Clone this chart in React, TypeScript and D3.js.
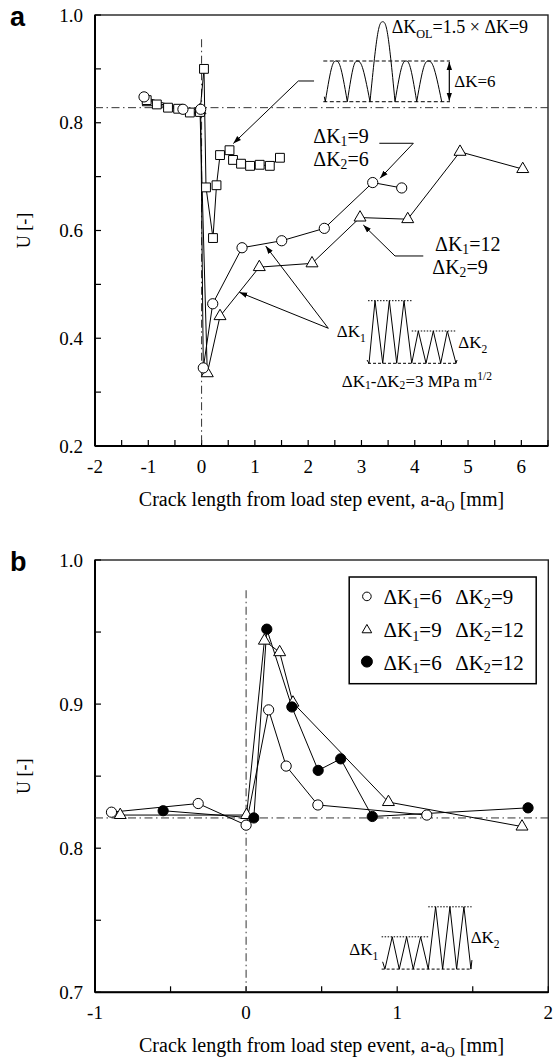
import React from 'react';
import * as d3 from 'd3';

const SERIF = "'Liberation Serif', 'Times New Roman', 'DejaVu Serif', serif";
const SANS = "'Liberation Sans', Arial, sans-serif";

// ---------- panel a : U vs crack length, single overload and high-low steps ----------
const aXTicks = [-2, -1, 0, 1, 2, 3, 4, 5, 6];
const aYTicks = [0.2, 0.4, 0.6, 0.8, 1.0];
const aRefU = 0.828;
// ΔK=6 with a single ΔK_OL=9 overload (squares)
const aOverload: [number, number][] = [
  [-1.03, 0.842], [-0.84, 0.834], [-0.63, 0.828], [-0.44, 0.826], [-0.22, 0.819],
  [-0.03, 0.82], [0.045, 0.9], [0.083, 0.68], [0.214, 0.586], [0.28, 0.684],
  [0.346, 0.74], [0.524, 0.749], [0.59, 0.731], [0.74, 0.724], [0.91, 0.72],
  [1.09, 0.722], [1.28, 0.72], [1.47, 0.735],
];
// ΔK1=9 -> ΔK2=6 (circles)
const aStep9to6: [number, number][] = [
  [-1.08, 0.848], [-0.35, 0.825], [-0.017, 0.825], [0.032, 0.345], [0.209, 0.464],
  [0.759, 0.568], [1.503, 0.581], [2.303, 0.604], [3.211, 0.689], [3.755, 0.679],
];
// ΔK1=12 -> ΔK2=9 (triangles)
const aStep12to9: [number, number][] = [
  [-1.0, 0.838], [-0.03, 0.823], [0.107, 0.335], [0.346, 0.441], [1.083, 0.532],
  [2.072, 0.539], [2.973, 0.624], [3.868, 0.621], [4.849, 0.746], [6.026, 0.714],
];

// ---------- panel b : low-high steps ----------
const bXTicks = [-1, 0, 1, 2];
const bYTicks = [0.7, 0.8, 0.9, 1.0];
const bRefU = 0.821;
const bStep6to9: [number, number][] = [
  [-0.891, 0.825], [-0.317, 0.831], [0, 0.816], [0.149, 0.896], [0.265, 0.857],
  [0.475, 0.83], [1.196, 0.823],
];
const bStep9to12: [number, number][] = [
  [-0.833, 0.823], [0.003, 0.823], [0.121, 0.944], [0.222, 0.936], [0.31, 0.901],
  [0.942, 0.832], [1.826, 0.815],
];
const bStep6to12: [number, number][] = [
  [-0.549, 0.826], [0.051, 0.821], [0.137, 0.952], [0.303, 0.898], [0.477, 0.854],
  [0.626, 0.862], [0.835, 0.822], [1.866, 0.828],
];
const bLegend = [
  { k1: 'ΔK_{1}=6', k2: 'ΔK_{2}=9', mark: 'circle' },
  { k1: 'ΔK_{1}=9', k2: 'ΔK_{2}=12', mark: 'triangle' },
  { k1: 'ΔK_{1}=6', k2: 'ΔK_{2}=12', mark: 'dot' },
];

const xTitle = 'Crack length from load step event, a-a_{O} [mm]';
const yTitle = 'U [-]';

// scales
const aX = d3.scaleLinear().domain([-2, 6.5]).range([95, 548]);
const aY = d3.scaleLinear().domain([0.2, 1.0]).range([446, 15]);
const bX = d3.scaleLinear().domain([-1, 2]).range([95, 548.3]);
const bY = d3.scaleLinear().domain([0.7, 1.0]).range([992.3, 560]);

type Scale = d3.ScaleLinear<number, number>;

// tiny "_{sub}" / "^{sup}" parser for svg text
function parse(s: string) {
  const out: { t: string; mode: string }[] = [];
  const re = /([_^])\{([^}]*)\}/g;
  let last = 0;
  let m: RegExpExecArray | null;
  while ((m = re.exec(s))) {
    if (m.index > last) out.push({ t: s.slice(last, m.index), mode: 'n' });
    out.push({ t: m[2], mode: m[1] === '_' ? 'sub' : 'sup' });
    last = re.lastIndex;
  }
  if (last < s.length) out.push({ t: s.slice(last), mode: 'n' });
  return out;
}

function Rich(props: { x: number; y: number; size: number; text: string; anchor?: string; subShift?: number }) {
  const { x, y, size, text, anchor = 'start', subShift = 0.3 } = props;
  let cur = 0;
  return (
    <text x={x} y={y} fontSize={size} textAnchor={anchor} fill="#000" style={{ fontFamily: SERIF }}>
      {parse(text).map((p, i) => {
        const off = p.mode === 'sub' ? size * subShift : p.mode === 'sup' ? -size * 0.42 : 0;
        const dy = off - cur;
        cur = off;
        return (
          <tspan key={i} dy={dy} fontSize={p.mode === 'n' ? size : size * 0.68}>
            {p.t}
          </tspan>
        );
      })}
    </text>
  );
}

const sym = {
  circle: d3.symbol().type(d3.symbolCircle).size(82)()!,
  square: d3.symbol().type(d3.symbolSquare).size(78)()!,
  triangle: d3.symbol().type(d3.symbolTriangle).size(62)()!,
};

function Series({ data, X, Y, shape, fill = '#fff' }: { data: [number, number][]; X: Scale; Y: Scale; shape: string; fill?: string }) {
  return (
    <g>
      {data.map((d, i) => (
        <path key={i} d={(sym as any)[shape]} transform={`translate(${X(d[0])},${Y(d[1])})`} fill={fill} stroke="#000" strokeWidth={1} />
      ))}
    </g>
  );
}

function SeriesLine({ data, X, Y }: { data: [number, number][]; X: Scale; Y: Scale }) {
  const gen = d3.line<[number, number]>().x(d => X(d[0])).y(d => Y(d[1]));
  return <path d={gen(data)!} fill="none" stroke="#000" strokeWidth={1} />;
}

function Axes({ X, Y, xTicks, yTicks, xMinorStep, yMinorStep, letter }: { X: Scale; Y: Scale; xTicks: number[]; yTicks: number[]; xMinorStep: number; yMinorStep: number; letter: string }) {
  const [x0, x1] = X.range();
  const [y0, y1] = Y.range(); // y0 bottom, y1 top
  const [dx0, dx1] = X.domain();
  const [dy0, dy1] = Y.domain();
  const xMinor = d3.range(dx0, dx1 + 1e-9, xMinorStep);
  const yMinor = d3.range(dy0, dy1 + 1e-9, yMinorStep);
  const tl = 6;
  return (
    <g>
      <rect x={x0} y={y1} width={x1 - x0} height={y0 - y1} fill="none" stroke="#222" strokeWidth={1.4} />
      <line x1={x0} x2={x0} y1={y1} y2={y0} stroke="#000" strokeWidth={2} />
      <line x1={x0} x2={x1} y1={y0} y2={y0} stroke="#000" strokeWidth={2} />
      {xMinor.map((v, i) => (
        <line key={'xt' + i} x1={X(v)} x2={X(v)} y1={y0} y2={y0 - tl} stroke="#000" strokeWidth={1.2} />
      ))}
      {yMinor.map((v, i) => (
        <line key={'yt' + i} x1={x0} x2={x0 + tl} y1={Y(v)} y2={Y(v)} stroke="#000" strokeWidth={1.2} />
      ))}
      {xTicks.map(v => (
        <text key={'xl' + v} x={X(v)} y={y0 + 27} fontSize={19} textAnchor="middle" style={{ fontFamily: SERIF }}>
          {String(v)}
        </text>
      ))}
      {yTicks.map(v => (
        <text key={'yl' + v} x={x0 - 12} y={Y(v) + 6.5} fontSize={19} textAnchor="end" style={{ fontFamily: SERIF }}>
          {d3.format('.1f')(v)}
        </text>
      ))}
      <Rich x={(x0 + x1) / 2} y={y0 + 60} size={20} text={xTitle} anchor="middle" subShift={0.25} />
      <text transform={`translate(30,${(y0 + y1) / 2}) rotate(-90)`} fontSize={18} textAnchor="middle" style={{ fontFamily: SERIF }}>
        {yTitle}
      </text>
      <text x={10} y={y1 + 11} fontSize={27} fontWeight="bold" style={{ fontFamily: SANS }}>
        {letter}
      </text>
    </g>
  );
}

const DASHDOT = '8,3.5,1.5,3.5';

// load sketch: each half cycle is a pointed-valley hump between two valleys
function humps(valleys: number[], peaks: [number, number][], bottom: number) {
  const p = d3.path();
  p.moveTo(valleys[0], bottom - 5);
  p.lineTo(valleys[0] + 1, bottom);
  for (let i = 0; i < peaks.length; i++) {
    const [px, py] = peaks[i];
    const a = valleys[i] + (i === 0 ? 1 : 0);
    const b = valleys[i + 1];
    p.bezierCurveTo(a + (px - a) * 0.55, bottom - (bottom - py) * 0.9, px - (px - a) * 0.3, py, px, py);
    p.bezierCurveTo(px + (b - px) * 0.3, py, b - (b - px) * 0.55, bottom - (bottom - py) * 0.9, b, bottom);
  }
  return p.toString();
}

function PanelA() {
  const X = aX, Y = aY;
  const o1 = [X(2.284), Y(0.9146)]; // overload sketch origin
  const o2 = [X(3.123), Y(0.4697)]; // step sketch origin
  const zig = d3.line()([
    [-1, 59.3], [1, 62.6], [7, 0], [14.7, 62.6], [21.3, 0], [28.7, 62.6], [36, 0], [43.7, 62.6],
    [50.3, 30.3], [58, 62.6], [65.3, 30.3], [72.7, 62.6], [79.3, 30.3], [88, 62.6], [89, 59.3],
  ])!;
  const poly = (pts: [number, number][]) => d3.line<[number, number]>().x(d => X(d[0])).y(d => Y(d[1]))(pts)!;
  return (
    <g>
      <Axes X={X} Y={Y} xTicks={aXTicks} yTicks={aYTicks} xMinorStep={0.5} yMinorStep={0.1} letter="a" />
      <line x1={X(-2)} x2={X(6.5)} y1={Y(aRefU)} y2={Y(aRefU)} stroke="#333" strokeWidth={1} strokeDasharray={DASHDOT} />
      <line x1={X(0)} x2={X(0)} y1={Y(0.955)} y2={Y(0.2)} stroke="#333" strokeWidth={1} strokeDasharray={DASHDOT} />

      <SeriesLine data={aStep12to9} X={X} Y={Y} />
      <SeriesLine data={aStep9to6} X={X} Y={Y} />
      <SeriesLine data={aOverload} X={X} Y={Y} />
      <Series data={aStep12to9} X={X} Y={Y} shape="triangle" />
      <Series data={aOverload} X={X} Y={Y} shape="square" />
      <Series data={aStep9to6} X={X} Y={Y} shape="circle" />

      {/* overload sketch */}
      <g transform={`translate(${o1[0]},${o1[1]})`} stroke="#000" fill="none">
        <line x1={0} x2={126.7} y1={0} y2={0} strokeDasharray="4,2.5" strokeWidth={1} />
        <line x1={0} x2={126.7} y1={40.7} y2={40.7} strokeDasharray="4,2.5" strokeWidth={1} />
        <path
          d={humps([1, 24, 46.7, 71.7, 93.4, 118.4], [[12.7, 0], [34, 0], [59.4, -39.3], [82.7, 0], [105, 0]], 40.7)}
          strokeWidth={1}
        />
        <line x1={126} x2={126} y1={1} y2={39.7} strokeWidth={1.2} markerStart="url(#ah)" markerEnd="url(#ah)" />
      </g>
      <Rich x={o1[0] + 68.4} y={o1[1] - 28} size={18} text="ΔK_{OL}=1.5 × ΔK=9" subShift={0.25} />
      <Rich x={o1[0] + 131} y={o1[1] + 26} size={17} text="ΔK=6" />
      <path d={poly([[2.11, 0.8775], [1.815, 0.8775], [0.595, 0.7615]])} fill="none" stroke="#000" strokeWidth={1} markerEnd="url(#ah)" />

      {/* step labels */}
      <Rich x={X(2.096)} y={Y(0.7619)} size={20} text="ΔK_{1}=9" subShift={0.15} />
      <Rich x={X(2.096)} y={Y(0.7196)} size={20} text="ΔK_{2}=6" subShift={0.15} />
      <path d={poly([[3.335, 0.7619], [3.973, 0.7619], [3.348, 0.6969]])} fill="none" stroke="#000" strokeWidth={1} markerEnd="url(#ah)" />
      <Rich x={X(4.38)} y={Y(0.5617)} size={20} text="ΔK_{1}=12" subShift={0.15} />
      <Rich x={X(4.329)} y={Y(0.5197)} size={20} text="ΔK_{2}=9" subShift={0.15} />
      <path d={poly([[4.16, 0.5527], [3.629, 0.5527], [3.034, 0.6102]])} fill="none" stroke="#000" strokeWidth={1} markerEnd="url(#ah)" />
      <path d={poly([[2.378, 0.4185], [1.203, 0.5712]])} fill="none" stroke="#000" strokeWidth={1} markerEnd="url(#ah)" />
      <path d={poly([[2.378, 0.4185], [0.708, 0.4853]])} fill="none" stroke="#000" strokeWidth={1} markerEnd="url(#ah)" />

      {/* high-low step sketch */}
      <g transform={`translate(${o2[0]},${o2[1]})`} stroke="#000" fill="none">
        <line x1={0} x2={43.7} y1={0} y2={0} strokeDasharray="1.5,1.5" strokeWidth={1} />
        <line x1={43.7} x2={88.7} y1={30.3} y2={30.3} strokeDasharray="1.5,1.5" strokeWidth={1} />
        <line x1={0} x2={88.7} y1={62.6} y2={62.6} strokeDasharray="3,2" strokeWidth={1} />
        <path d={zig} strokeWidth={1} />
      </g>
      <Rich x={o2[0] - 31.3} y={o2[1] + 36.3} size={17} text="ΔK_{1}" />
      <Rich x={o2[0] + 90.3} y={o2[1] + 47.3} size={17} text="ΔK_{2}" />
      <Rich x={o2[0] - 26.3} y={o2[1] + 86} size={17} text="ΔK_{1}-ΔK_{2}=3 MPa m^{1/2}" subShift={0.12} />
    </g>
  );
}

function PanelB() {
  const X = bX, Y = bY;
  const o = [X(0.897), Y(0.7161)];
  const zig = d3.line()([
    [1, -7.3], [3.3, 0], [10.6, -32.3], [17.6, 0], [25, -32.3], [31.6, 0], [39, -32.3], [46.6, 0],
    [54, -62.3], [61, 0], [68.3, -62.3], [75, 0], [82.3, -62.3], [89.3, 0], [90.3, -9],
  ])!;
  const lx = X(1.0) - 48, ly = Y(1.0) + 17;
  return (
    <g>
      <Axes X={X} Y={Y} xTicks={bXTicks} yTicks={bYTicks} xMinorStep={0.5} yMinorStep={0.05} letter="b" />
      <line x1={X(-1)} x2={X(2)} y1={Y(bRefU)} y2={Y(bRefU)} stroke="#333" strokeWidth={1} strokeDasharray={DASHDOT} />
      <line x1={X(0)} x2={X(0)} y1={Y(0.979)} y2={Y(0.7)} stroke="#333" strokeWidth={1} strokeDasharray={DASHDOT} />

      <SeriesLine data={bStep9to12} X={X} Y={Y} />
      <SeriesLine data={bStep6to9} X={X} Y={Y} />
      <SeriesLine data={bStep6to12} X={X} Y={Y} />
      <Series data={bStep9to12} X={X} Y={Y} shape="triangle" />
      <Series data={bStep6to9} X={X} Y={Y} shape="circle" />
      <Series data={bStep6to12} X={X} Y={Y} shape="circle" fill="#000" />

      {/* legend */}
      <g transform={`translate(${lx},${ly})`}>
        <rect x={0} y={0} width={187} height={106.7} fill="#fff" stroke="#000" strokeWidth={1.5} />
        {bLegend.map((r, i) => {
          const cy = 19.4 + i * 32.6;
          const mk = r.mark === 'triangle'
            ? <path d={d3.symbol().type(d3.symbolTriangle).size(40)()!} transform={`translate(17.7,${cy + 1})`} fill="#fff" stroke="#000" strokeWidth={1} />
            : <circle cx={17.7} cy={cy} r={r.mark === 'dot' ? 5.5 : 4.3} fill={r.mark === 'dot' ? '#000' : '#fff'} stroke="#000" strokeWidth={1} />;
          return (
            <g key={i}>
              {mk}
              <Rich x={34.3} y={cy + 8} size={21} text={r.k1} subShift={0.18} />
              <Rich x={106} y={cy + 8} size={21} text={r.k2} subShift={0.18} />
            </g>
          );
        })}
      </g>

      {/* low-high step sketch */}
      <g transform={`translate(${o[0]},${o[1]})`} stroke="#000" fill="none">
        <line x1={0} x2={46.6} y1={-32.3} y2={-32.3} strokeDasharray="1.5,1.5" strokeWidth={1} />
        <line x1={46.6} x2={90} y1={-62.3} y2={-62.3} strokeDasharray="1.5,1.5" strokeWidth={1} />
        <line x1={0} x2={90} y1={0} y2={0} strokeDasharray="3,2" strokeWidth={1} />
        <path d={zig} strokeWidth={1} />
      </g>
      <Rich x={o[0] - 32.4} y={o[1] - 14} size={17} text="ΔK_{1}" />
      <Rich x={o[0] + 89} y={o[1] - 25.7} size={17} text="ΔK_{2}" />
    </g>
  );
}

export default function App() {
  return (
    <svg width={553} height={1061} style={{ position: 'absolute', left: 0, top: 0, background: '#fff' }}>
      <defs>
        <marker id="ah" viewBox="0 0 10 10" refX={10} refY={5} markerWidth={8} markerHeight={8} markerUnits="userSpaceOnUse" orient="auto-start-reverse">
          <path d="M0,1.6 L10,5 L0,8.4 Z" fill="#000" />
        </marker>
      </defs>
      <rect width={553} height={1061} fill="#fff" />
      <PanelA />
      <PanelB />
    </svg>
  );
}
